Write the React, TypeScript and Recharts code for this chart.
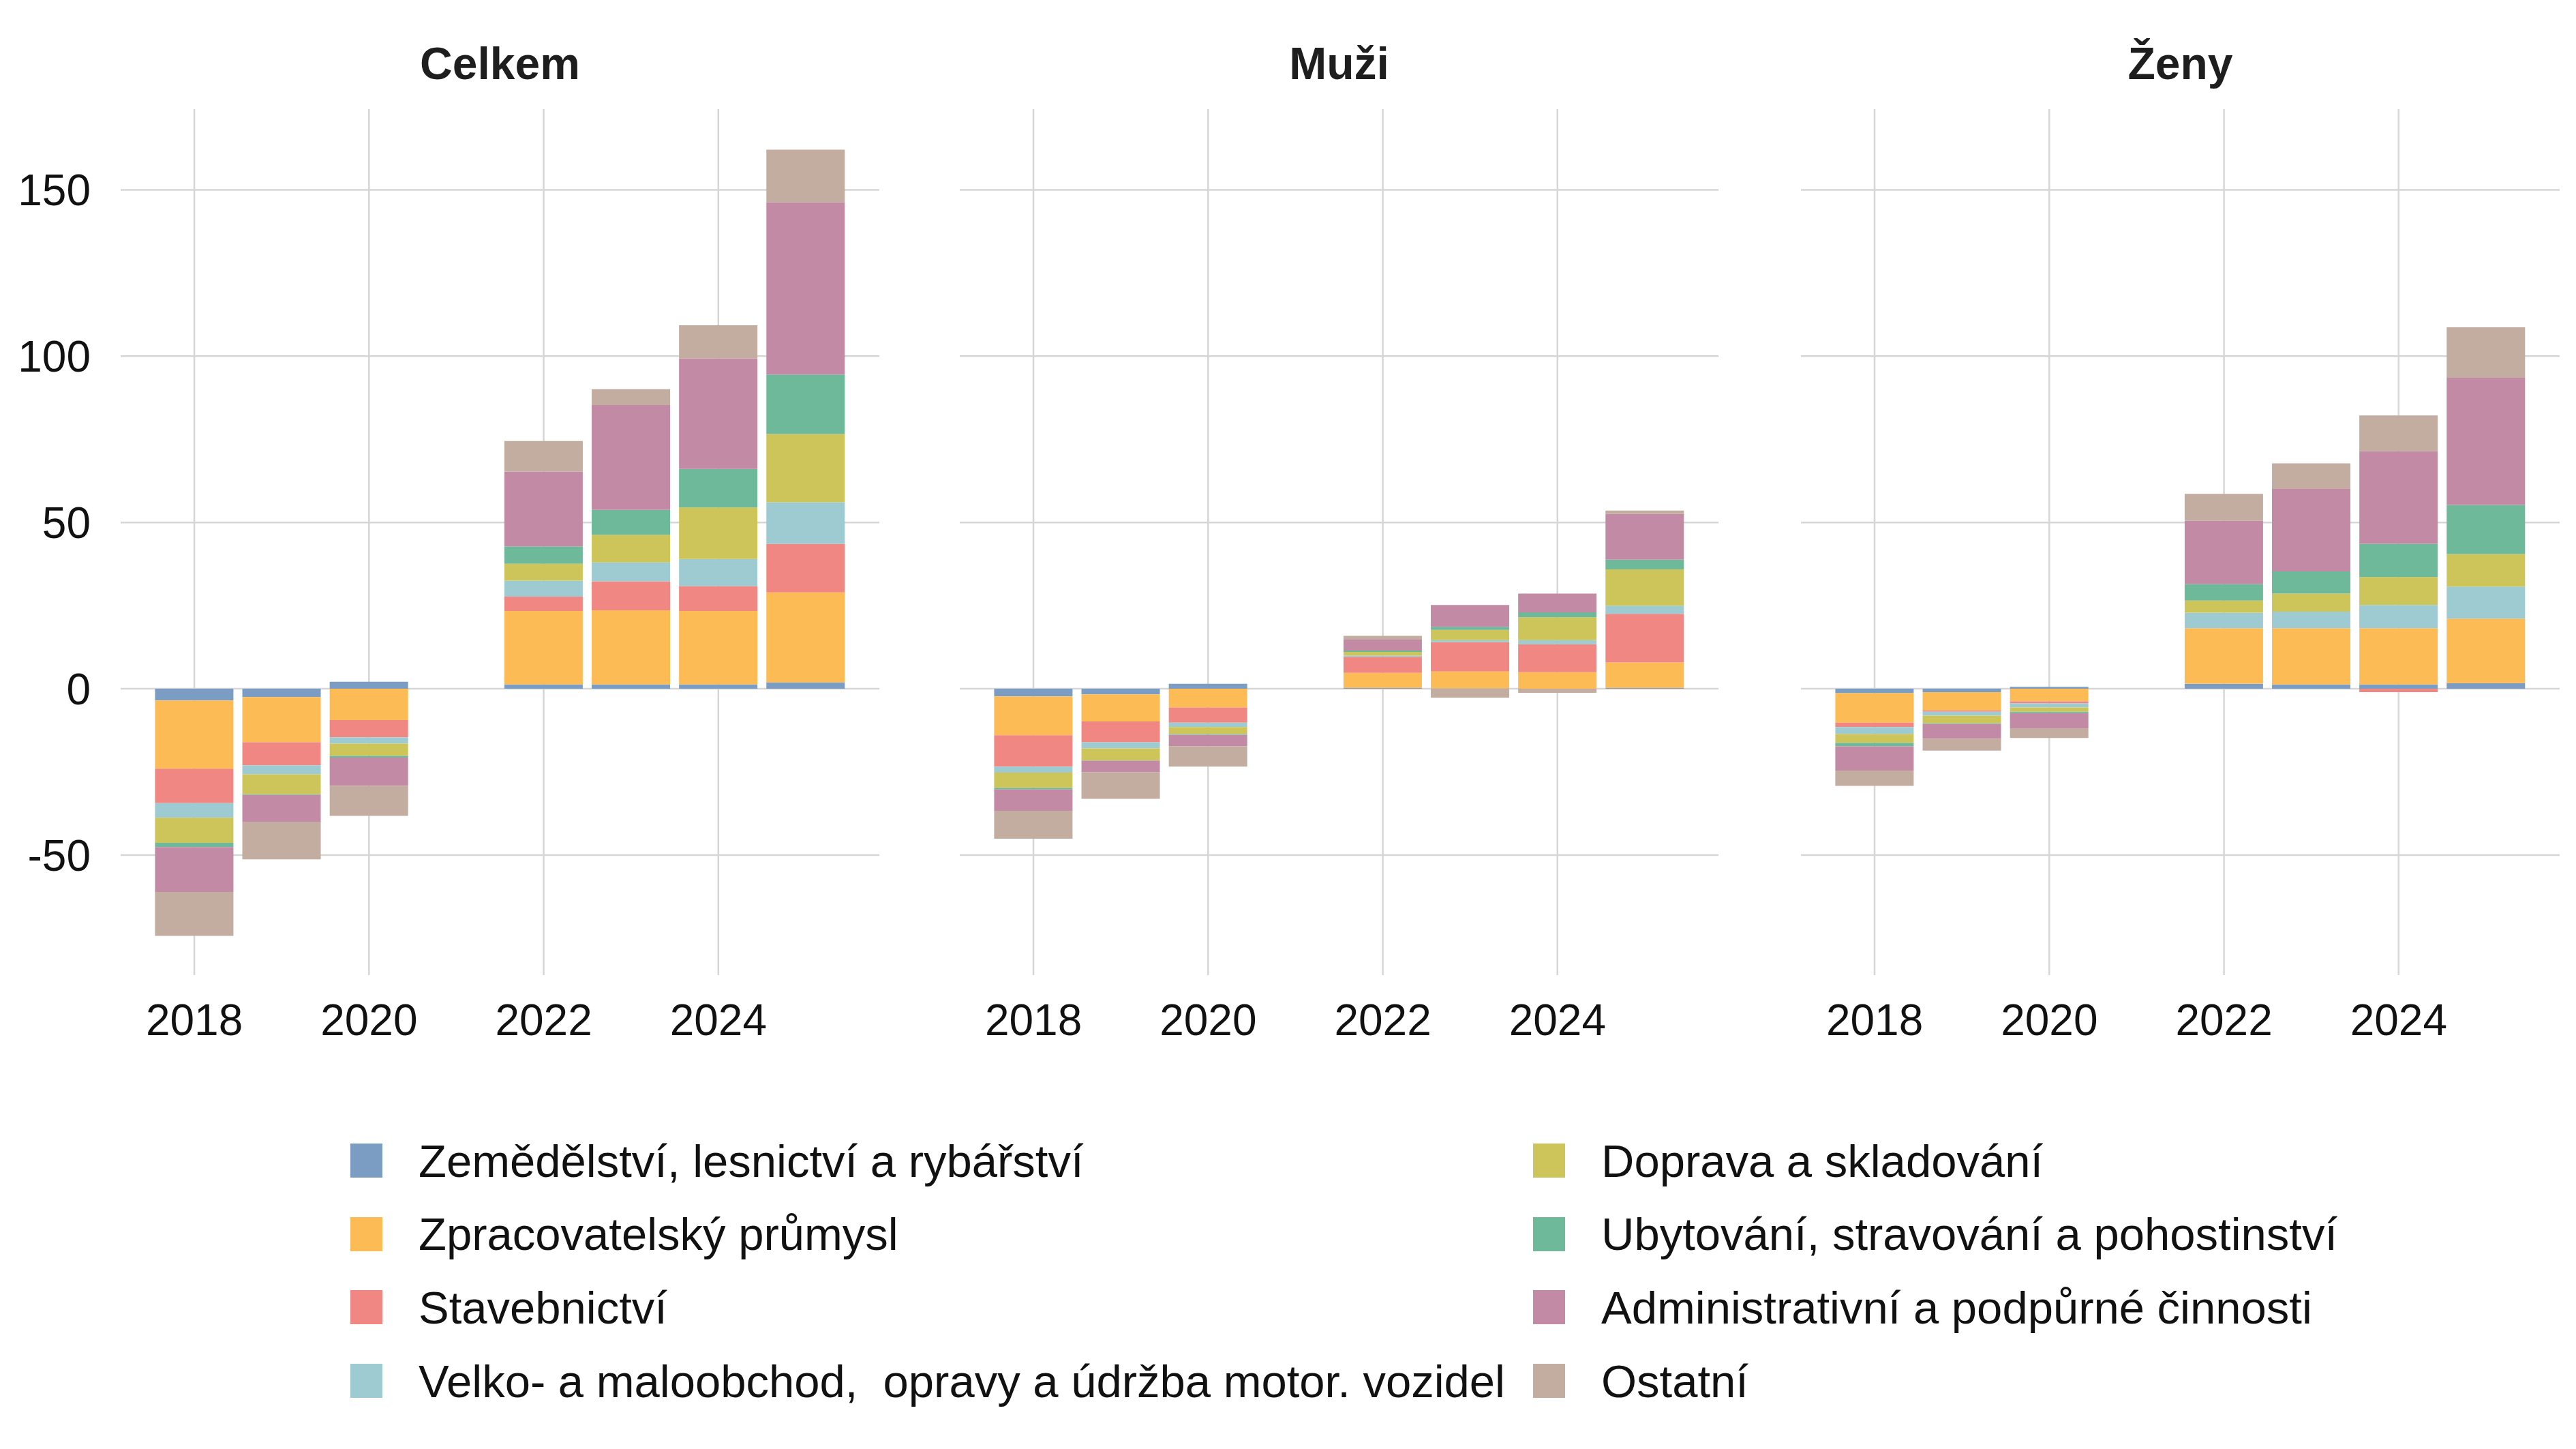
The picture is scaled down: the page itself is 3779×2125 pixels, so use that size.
import React from "react";
import { BarChart, Bar, XAxis, YAxis, CartesianGrid } from "recharts";

const years = [2018, 2019, 2020, 2021, 2022, 2023, 2024, 2025];
const tickYears = [2018, 2020, 2022, 2024];
const yTicks = [-50, 0, 50, 100, 150];
const yDomain = [-86.1, 174.3];

const sectorNames = [
  "Zemědělství, lesnictví a rybářství",
  "Zpracovatelský průmysl",
  "Stavebnictví",
  "Velko- a maloobchod,  opravy a údržba motor. vozidel",
  "Doprava a skladování",
  "Ubytování, stravování a pohostinství",
  "Administrativní a podpůrné činnosti",
  "Ostatní",
];
const sectorColors = [
  "#7b9dc4",
  "#fdbb55",
  "#f08782",
  "#9dcbd1",
  "#cdc55a",
  "#6fb99b",
  "#c38aa5",
  "#c2ada0",
];

// Celkem (2021 has no value)
const celkemZemedelstvi = [-3.5, -2.5, 2.1, null, 1.3, 1.3, 1.3, 1.9];
const celkemPrumysl = [-20.5, -13.6, -9.4, null, 22.1, 22.3, 22.1, 27.1];
const celkemStavebnictvi = [-10.4, -6.9, -5.2, null, 4.3, 8.7, 7.5, 14.6];
const celkemObchod = [-4.4, -2.7, -1.9, null, 4.8, 5.7, 8.1, 12.5];
const celkemDoprava = [-7.5, -6.0, -3.7, null, 5.1, 8.3, 15.5, 20.5];
const celkemUbytovani = [-1.3, -0.2, -0.5, null, 5.2, 7.5, 11.6, 17.9];
const celkemAdministrativa = [-13.5, -8.2, -8.5, null, 22.5, 31.5, 33.2, 51.8];
const celkemOstatni = [-13.2, -11.2, -9.0, null, 9.2, 4.8, 10.0, 15.8];

// Muži
const muziZemedelstvi = [-2.3, -1.7, 1.5, null, 0.2, 0.1, 0, 0.2];
const muziPrumysl = [-11.7, -8.1, -5.6, null, 4.6, 5.1, 5.0, 7.7];
const muziStavebnictvi = [-9.4, -6.3, -4.6, null, 4.8, 8.8, 8.4, 14.6];
const muziObchod = [-1.8, -1.8, -1.3, null, 0.4, 0.6, 1.2, 2.5];
const muziDoprava = [-4.6, -3.6, -2.1, null, 1.1, 3.1, 6.9, 10.9];
const muziUbytovani = [-0.5, -0.1, -0.2, null, 0.4, 0.9, 1.5, 2.9];
const muziAdministrativa = [-6.4, -3.5, -3.5, null, 3.3, 6.6, 5.6, 13.8];
const muziOstatni = [-8.4, -8.0, -6.1, null, 1.1, -2.7, -1.2, 1.0];

// Ženy
const zenyZemedelstvi = [-1.3, -1.0, 0.6, null, 1.5, 1.3, 1.3, 1.7];
const zenyPrumysl = [-8.9, -5.5, -3.8, null, 16.7, 16.9, 16.9, 19.4];
const zenyStavebnictvi = [-1.3, -0.4, -0.6, null, 0, 0, -1.0, 0];
const zenyObchod = [-2.1, -1.2, -1.2, null, 4.7, 5.0, 7.0, 9.6];
const zenyDoprava = [-2.7, -2.3, -1.3, null, 3.6, 5.4, 8.4, 9.8];
const zenyUbytovani = [-1.0, -0.2, -0.4, null, 5.0, 6.7, 10.0, 14.8];
const zenyAdministrativa = [-7.3, -4.4, -4.6, null, 19.0, 24.8, 27.8, 38.2];
const zenyOstatni = [-4.6, -3.6, -2.9, null, 8.1, 7.7, 10.8, 15.2];

const panelSeries = [
  [
    celkemZemedelstvi,
    celkemPrumysl,
    celkemStavebnictvi,
    celkemObchod,
    celkemDoprava,
    celkemUbytovani,
    celkemAdministrativa,
    celkemOstatni,
  ],
  [
    muziZemedelstvi,
    muziPrumysl,
    muziStavebnictvi,
    muziObchod,
    muziDoprava,
    muziUbytovani,
    muziAdministrativa,
    muziOstatni,
  ],
  [
    zenyZemedelstvi,
    zenyPrumysl,
    zenyStavebnictvi,
    zenyObchod,
    zenyDoprava,
    zenyUbytovani,
    zenyAdministrativa,
    zenyOstatni,
  ],
];
const panelTitles = ["Celkem", "Muži", "Ženy"];

const FONT = '"Liberation Sans", Arial, Helvetica, sans-serif';
const PLOT_W = 1113;
const PLOT_H = 1270;
const PLOT_TOP = 160;
const panelLefts = [177, 1408, 2642];
const GRID = "#d6d6d6";

function buildRows(series: (number | null)[][]) {
  return years.map((year, i) => {
    const row: Record<string, number | null> = { year };
    series.forEach((s, k) => {
      row[`s${k}`] = s[i];
    });
    return row;
  });
}

function Panel({ index }: { index: number }) {
  const data = buildRows(panelSeries[index]);
  const withAxis = index === 0;
  const axisW = 120;
  const marginLeft = withAxis ? panelLefts[0] - axisW : 0;
  const left = withAxis ? 0 : panelLefts[index];
  const width = (withAxis ? panelLefts[0] : 0) + PLOT_W;

  return (
    <div style={{ position: "absolute", left, top: 0 }}>
      <BarChart
        width={width}
        height={PLOT_TOP + PLOT_H + 130}
        data={data}
        stackOffset="sign"
        barCategoryGap="5%"
        margin={{ top: PLOT_TOP, right: 0, bottom: 10, left: marginLeft }}
      >
        <CartesianGrid stroke={GRID} strokeWidth={2.5} syncWithTicks />
        <XAxis
          dataKey="year"
          ticks={tickYears}
          interval={0}
          axisLine={false}
          tickLine={false}
          tickSize={0}
          tickMargin={43}
          height={120}
          padding={{ left: 44, right: 44 }}
          tick={{ fontSize: 64, fill: "#111", fontFamily: FONT }}
        />
        <YAxis
          type="number"
          domain={yDomain}
          ticks={yTicks}
          hide={!withAxis}
          width={axisW}
          axisLine={false}
          tickLine={false}
          tickSize={0}
          tickMargin={44}
          tick={{ fontSize: 64, fill: "#111", fontFamily: FONT }}
        />
        {sectorNames.map((name, k) => (
          <Bar
            key={name}
            name={name}
            dataKey={`s${k}`}
            stackId="total"
            fill={sectorColors[k]}
            isAnimationActive={false}
          />
        ))}
      </BarChart>
      <div
        style={{
          position: "absolute",
          top: 60,
          left: (withAxis ? panelLefts[0] : 0) + PLOT_W / 2 - 400,
          width: 800,
          textAlign: "center",
          fontSize: 66,
          lineHeight: "66px",
          fontWeight: 700,
          color: "#1e1e1e",
          fontFamily: FONT,
        }}
      >
        {panelTitles[index]}
      </div>
    </div>
  );
}

function Legend() {
  return (
    <>
      {sectorNames.map((name, k) => {
        const col = Math.floor(k / 4);
        const row = k % 4;
        return (
          <div
            key={name}
            style={{
              position: "absolute",
              left: col === 0 ? 514 : 2249,
              top: 1677 + row * 107.7,
              height: 50,
              display: "flex",
              alignItems: "center",
              whiteSpace: "pre",
              fontFamily: FONT,
              fontSize: 67,
              color: "#111",
            }}
          >
            <div
              style={{
                width: 47,
                height: 50,
                background: sectorColors[k],
                marginRight: 53,
                flex: "none",
              }}
            />
            <span>{name}</span>
          </div>
        );
      })}
    </>
  );
}

export default function App() {
  return (
    <div
      style={{
        position: "absolute",
        left: 0,
        top: 0,
        width: 3779,
        height: 2125,
        background: "#fff",
        overflow: "hidden",
      }}
    >
      <Panel index={0} />
      <Panel index={1} />
      <Panel index={2} />
      <Legend />
    </div>
  );
}
